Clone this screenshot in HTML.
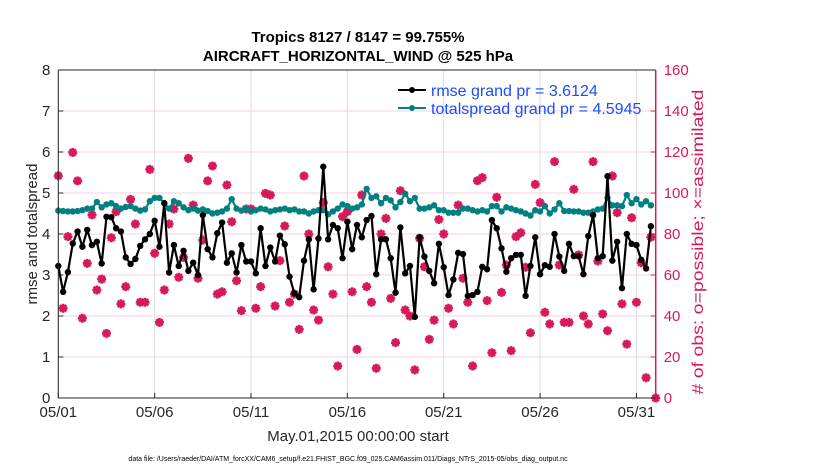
<!DOCTYPE html>
<html><head><meta charset="utf-8"><style>
html,body{margin:0;padding:0;background:#fff;width:830px;height:470px;overflow:hidden}
svg{display:block;font-family:"Liberation Sans",Arial,sans-serif}
</style></head><body>
<svg id="chart" width="830" height="470" viewBox="0 0 830 470" xmlns="http://www.w3.org/2000/svg">
<text x="358" y="42" font-size="15" font-weight="bold" text-anchor="middle" fill="#000">Tropics 8127 / 8147 = 99.755%</text>
<text x="358" y="61" font-size="15" font-weight="bold" text-anchor="middle" fill="#000">AIRCRAFT_HORIZONTAL_WIND @ 525 hPa</text>
<g id="grid"></g>
<g id="series"></g>
<g id="axes"></g>
<text transform="translate(37,234) rotate(-90)" font-size="15" text-anchor="middle" fill="#262626">rmse and totalspread</text>
<text transform="translate(703,242) rotate(-90)" font-size="16" text-anchor="middle" fill="#d6195a" textLength="305" lengthAdjust="spacingAndGlyphs"># of obs: o=possible; ×=assimilated</text>
<text x="358" y="441" font-size="15" text-anchor="middle" fill="#262626">May.01,2015 00:00:00 start</text>
<text x="348" y="461" font-size="7" text-anchor="middle" fill="#000">data file: /Users/raeder/DAI/ATM_forcXX/CAM6_setup/f.e21.FHIST_BGC.f09_025.CAM6assim.011/Diags_NTrS_2015-05/obs_diag_output.nc</text>
<g>
<line x1="398" y1="90" x2="426" y2="90" stroke="#000" stroke-width="2"/>
<circle cx="412" cy="90" r="3" fill="#000"/>
<text x="431" y="96" font-size="16" fill="#1a4cff">rmse grand pr = 3.6124</text>
<line x1="398" y1="108" x2="426" y2="108" stroke="#008080" stroke-width="2"/>
<circle cx="412" cy="108" r="3" fill="#008080"/>
<text x="431" y="114" font-size="16" fill="#1a4cff">totalspread grand pr = 4.5945</text>
</g>
</svg>
<script>
const rmse = [3.22,2.59,3.07,3.77,4.06,3.69,4.10,3.73,3.81,3.28,4.42,4.41,4.14,4.06,3.43,3.27,3.39,3.71,3.87,4.00,4.32,3.69,4.75,3.06,3.73,3.22,3.59,3.10,3.30,3.00,4.46,3.63,3.43,4.02,4.28,3.30,3.53,3.06,3.73,3.33,3.33,3.04,4.14,3.22,
3.67,3.33,3.96,3.75,2.96,2.55,2.46,3.35,3.87,2.65,3.89,5.64,3.87,4.22,4.14,3.41,4.30,3.63,4.22,3.92,4.34,4.44,3.02,3.87,3.87,3.41,2.57,4.16,3.04,3.22,1.98,3.92,3.45,3.10,2.80,3.76,3.19,2.51,2.89,3.54,3.51,
2.49,2.51,2.59,3.20,3.14,4.34,4.14,3.65,3.08,3.41,3.49,3.49,2.49,3.22,3.92,3.02,3.24,3.20,4.00,3.45,3.10,3.76,3.46,3.46,3.02,3.95,4.46,3.41,3.46,5.41,3.35,3.81,2.68,4.00,3.76,3.73,3.37,3.16,4.19];
const spread = [4.57,4.56,4.55,4.55,4.56,4.58,4.62,4.62,4.78,4.65,4.72,4.75,4.68,4.62,4.66,4.68,4.62,4.57,4.60,4.80,4.88,4.88,4.75,4.62,4.80,4.75,4.65,4.58,4.62,4.57,4.60,4.56,4.50,4.52,4.55,4.62,4.85,4.62,4.57,4.62,4.55,4.58,4.62,4.60,
4.55,4.58,4.60,4.62,4.58,4.60,4.55,4.55,4.50,4.55,4.58,4.58,4.48,4.55,4.62,4.72,4.68,4.62,4.65,4.72,5.10,4.88,4.92,4.75,4.88,4.82,4.65,4.78,4.98,4.80,4.88,4.62,4.62,4.65,4.70,4.58,4.58,4.52,4.52,4.52,4.62,
4.62,4.58,4.55,4.58,4.55,4.68,4.68,4.55,4.65,4.62,4.58,4.55,4.50,4.45,4.58,4.55,4.68,4.50,4.60,4.75,4.56,4.56,4.55,4.55,4.52,4.52,4.55,4.60,4.62,4.88,4.70,4.70,4.68,4.95,4.75,4.85,4.72,4.80,4.70];
const obsCount = [108.4,43.8,78.7,119.8,105.9,38.9,65.7,89.3,52.7,58.0,31.5,78.2,90.9,45.9,54.3,96.9,84.9,46.7,46.7,111.5,70.6,36.9,52.7,84.9,92.2,58.9,68.6,116.9,94.1,58.4,77.1,105.9,113.2,50.7,51.8,103.9,86.0,57.2,42.6,92.2,92.2,43.8,54.3,
99.8,99.0,44.9,67.0,83.9,46.7,50.7,33.5,108.3,80.0,42.9,38.0,95.3,64.0,50.7,15.6,88.5,90.9,51.8,23.7,99.0,54.3,46.7,14.5,80.0,87.6,48.6,27.0,101.1,42.9,40.0,13.7,77.9,64.0,28.6,38.0,87.1,80.0,43.8,36.1,94.1,
58.4,46.7,15.6,106.0,107.5,47.5,22.1,97.9,51.5,64.9,23.1,78.7,80.6,63.8,31.8,104.2,95.3,41.8,36.1,115.3,64.9,36.9,36.9,101.8,69.8,40.0,36.1,115.3,66.8,41.0,32.8,108.3,90.4,45.9,26.3,87.9,46.7,66.0,9.9,78.5,0];
const xTickDays = [0,5,10,15,20,25,30];
const xTickLabels = ["05/01","05/06","05/11","05/16","05/21","05/26","05/31"];
const leftTicks = [0,1,2,3,4,5,6,7,8];
const rightTicks = [0,20,40,60,80,100,120,140,160];

const X0=58.3, X1=655.7, Y0=398, Y1=70, DAYS=31;
const sx = d => X0 + d/DAYS*(X1-X0);
const syL = v => Y0 - v/8*(Y0-Y1);
const syR = v => Y0 - v/160*(Y0-Y1);
const NS="http://www.w3.org/2000/svg";
function mk(tag, attrs, parent){const e=document.createElementNS(NS,tag);for(const k in attrs)e.setAttribute(k,attrs[k]);parent.appendChild(e);return e;}
const grid=document.getElementById('grid'), ser=document.getElementById('series'), axes=document.getElementById('axes');

xTickDays.forEach((d,i)=>{
  const g=mk('line',{x1:sx(d),x2:sx(d),y1:Y1,y2:Y0,stroke:'#dcdcdc','stroke-width':1},grid);
  
  
  const t=mk('line',{x1:sx(d),x2:sx(d),y1:Y0,y2:Y0-5,stroke:'#262626','stroke-width':1},axes);
  
  
  const l=mk('text',{x:sx(d),y:417,'font-size':15,'text-anchor':'middle',fill:'#262626'},axes);
  l.textContent=xTickLabels[i];
  
  
});
rightTicks.forEach(v=>{
  const g=mk('line',{x1:X0,x2:X1,y1:syR(v),y2:syR(v),stroke:'#f6d2de','stroke-width':1},grid);
  
  
  const t=mk('line',{x1:X1,x2:X1-5,y1:syR(v),y2:syR(v),stroke:'#d6195a','stroke-width':1},axes);
  
  
  const l=mk('text',{x:X1+8,y:syR(v)+5,'font-size':15,fill:'#d6195a'},axes);
  l.textContent=v;
  
  
});
leftTicks.forEach(v=>{
  const t=mk('line',{x1:X0,x2:X0+5,y1:syL(v),y2:syL(v),stroke:'#262626','stroke-width':1},axes);
  
  
  const l=mk('text',{x:X0-8,y:syL(v)+5,'font-size':15,'text-anchor':'end',fill:'#262626'},axes);
  l.textContent=v;
  
  
});
let a=mk('line',{x1:X0,x2:X0,y1:Y1,y2:Y0,stroke:'#262626','stroke-width':1},axes);


a=mk('line',{x1:X0,x2:X1,y1:Y0,y2:Y0,stroke:'#262626','stroke-width':1},axes);


a=mk('line',{x1:X0,x2:X1,y1:Y1,y2:Y1,stroke:'#262626','stroke-width':1},axes);


a=mk('line',{x1:X1,x2:X1,y1:Y1,y2:Y0,stroke:'#d6195a','stroke-width':1.5},axes);



obsCount.forEach((v,i)=>{
  const x=sx(i*0.25), y=syR(v);
  const m=mk('path',{d:`M${x-4.5},${y}H${x+4.5}M${x},${y-4.5}V${y+4.5}M${x-3.2},${y-3.2}L${x+3.2},${y+3.2}M${x-3.2},${y+3.2}L${x+3.2},${y-3.2}`,stroke:'#d6195a','stroke-width':2.6,fill:'none'},ser);
  
  
});
function series(vals,color,name){
  const pts=vals.map((v,i)=>sx(i*0.25).toFixed(1)+','+syL(v).toFixed(1)).join(' ');
  const pl=mk('polyline',{points:pts,fill:'none',stroke:color,'stroke-width':2.2,'stroke-linejoin':'round'},ser);
  
  
  vals.forEach((v,i)=>{
    const c=mk('circle',{cx:sx(i*0.25),cy:syL(v),r:3.2,fill:color},ser);
    
    
  });
}
series(spread,'#008080','totalspread');
series(rmse,'#000000','rmse');
</script>
</body></html>
